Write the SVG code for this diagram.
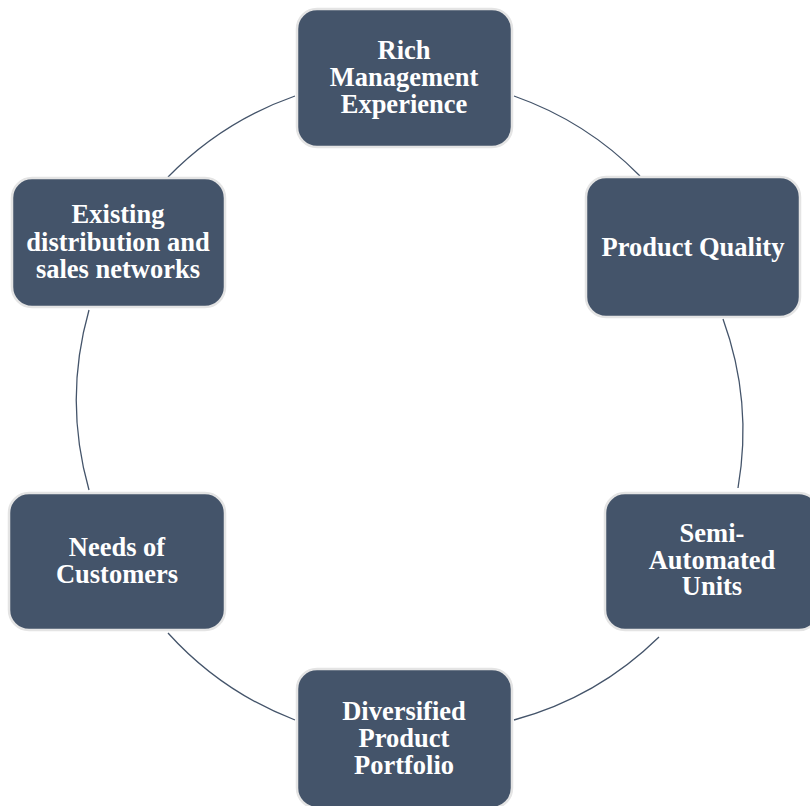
<svg xmlns="http://www.w3.org/2000/svg" width="810" height="806" viewBox="0 0 810 806">
<style>
.box{fill:#44546a;stroke:#e4e4e4;stroke-width:2.5}
.lbl{font-family:"Liberation Serif","Times New Roman",serif;font-weight:bold;font-size:26.5px;fill:#ffffff;text-anchor:middle}
.arc{fill:none;stroke:#44546a;stroke-width:1.3}
</style>
<rect width="810" height="806" fill="#ffffff"/>
<g id="connectors">
<path class="arc" d="M168,177 A330,330 0 0,1 295,96"/>
<path class="arc" d="M514,96 A330,330 0 0,1 640,176"/>
<path class="arc" d="M723,319 A330,330 0 0,1 738,488"/>
<path class="arc" d="M659,637 A330,330 0 0,1 514,720"/>
<path class="arc" d="M295,720 A330,330 0 0,1 168,633"/>
<path class="arc" d="M89,490 A330,330 0 0,1 89,310"/>
</g>
<g id="node-rich">
<rect class="box" x="297" y="9" width="215" height="138" rx="20"/>
<text class="lbl" x="404" y="59">Rich</text>
<text class="lbl" x="404" y="86">Management</text>
<text class="lbl" x="404" y="113">Experience</text>
</g>
<g id="node-quality">
<rect class="box" x="586" y="177" width="214" height="140" rx="20"/>
<text class="lbl" x="693" y="256">Product Quality</text>
</g>
<g id="node-semi">
<rect class="box" x="605" y="493" width="214" height="137" rx="20"/>
<text class="lbl" x="712" y="542">Semi-</text>
<text class="lbl" x="712" y="568.5">Automated</text>
<text class="lbl" x="712" y="595">Units</text>
</g>
<g id="node-diversified">
<rect class="box" x="297" y="669" width="215" height="139" rx="20"/>
<text class="lbl" x="404" y="720">Diversified</text>
<text class="lbl" x="404" y="747">Product</text>
<text class="lbl" x="404" y="774">Portfolio</text>
</g>
<g id="node-needs">
<rect class="box" x="9" y="493" width="216" height="137" rx="20"/>
<text class="lbl" x="117" y="556">Needs of</text>
<text class="lbl" x="117" y="583">Customers</text>
</g>
<g id="node-existing">
<rect class="box" x="12" y="178" width="213" height="129" rx="20"/>
<text class="lbl" x="118" y="223">Existing</text>
<text class="lbl" x="118" y="251">distribution and</text>
<text class="lbl" x="118" y="278">sales networks</text>
</g>
</svg>
